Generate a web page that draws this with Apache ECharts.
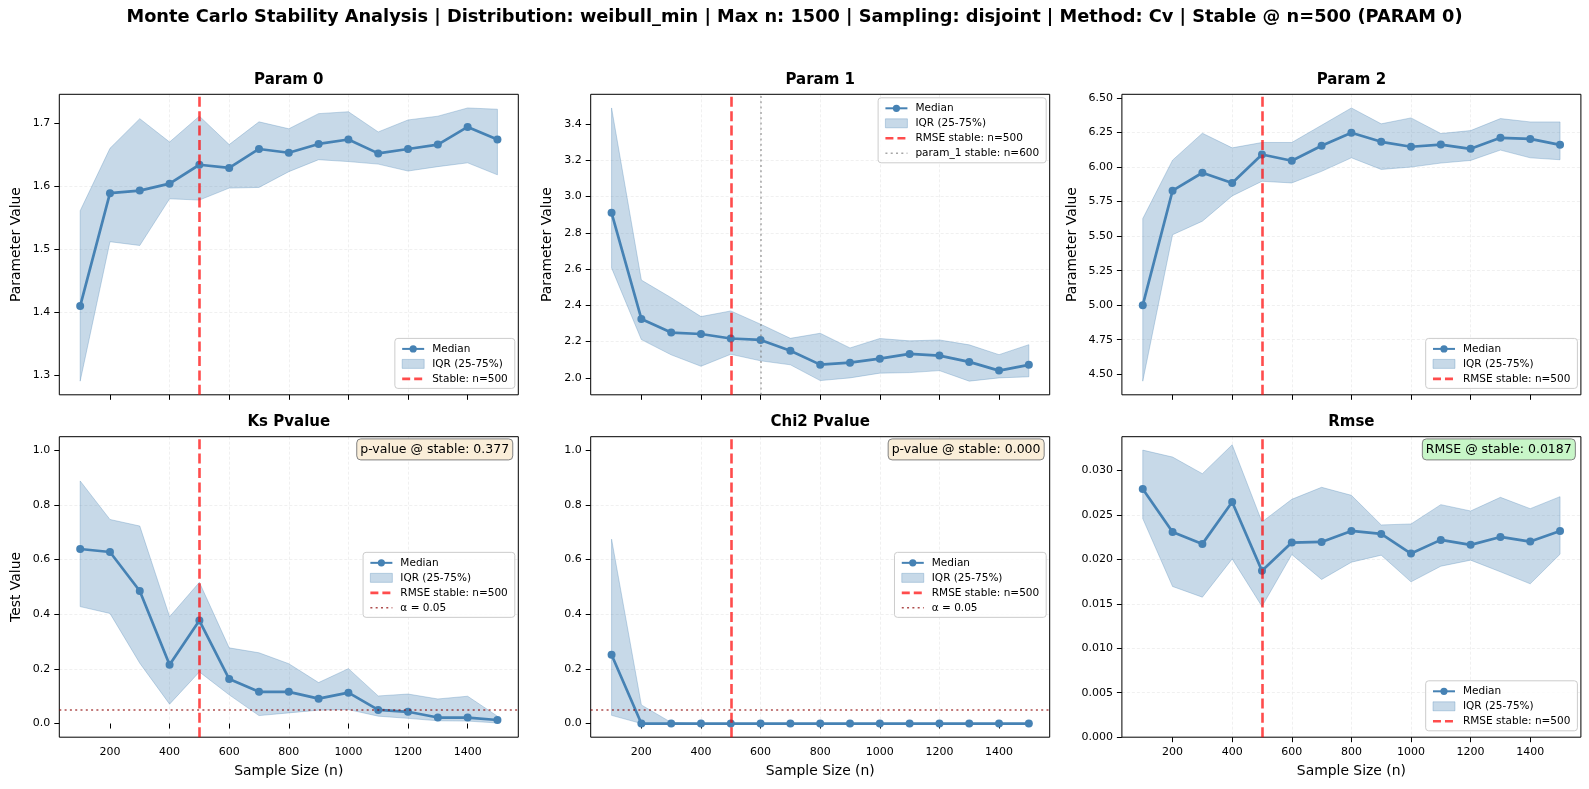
<!DOCTYPE html>
<html>
<head>
<meta charset="utf-8">
<title>Monte Carlo Stability Analysis</title>
<script src="https://cdn.jsdelivr.net/npm/echarts@6/dist/echarts.min.js"></script>
<style>
  html, body { margin: 0; padding: 0; background: #fff; }
  #chart { width: 1589px; height: 789px; }
</style>
</head>
<body>
<div id="chart"></div>
<script>
// ---- data ----
const sampleSizes = [100, 200, 300, 400, 500, 600, 700, 800, 900, 1000, 1100, 1200, 1300, 1400, 1500];

const param0Median = [1.410, 1.589, 1.593, 1.604, 1.634, 1.629, 1.659, 1.653, 1.667, 1.674, 1.652, 1.659, 1.666, 1.694, 1.674];
const param0Lower  = [1.291, 1.512, 1.506, 1.580, 1.578, 1.597, 1.598, 1.623, 1.642, 1.639, 1.635, 1.624, 1.631, 1.637, 1.618];
const param0Upper  = [1.561, 1.660, 1.707, 1.670, 1.711, 1.666, 1.702, 1.691, 1.715, 1.718, 1.686, 1.705, 1.711, 1.724, 1.722];

const param1Median = [2.910, 2.325, 2.250, 2.242, 2.217, 2.209, 2.149, 2.073, 2.084, 2.106, 2.132, 2.123, 2.088, 2.040, 2.072];
const param1Lower  = [2.606, 2.211, 2.127, 2.064, 2.130, 2.094, 2.072, 1.985, 2.000, 2.026, 2.029, 2.040, 1.982, 2.000, 2.006];
const param1Upper  = [3.488, 2.539, 2.442, 2.338, 2.369, 2.296, 2.218, 2.246, 2.165, 2.217, 2.204, 2.209, 2.182, 2.128, 2.183];

const param2Median = [5.000, 5.829, 5.959, 5.885, 6.091, 6.046, 6.154, 6.248, 6.183, 6.147, 6.163, 6.132, 6.212, 6.204, 6.161];
const param2Lower  = [4.450, 5.510, 5.608, 5.791, 5.897, 5.885, 5.969, 6.067, 5.983, 6.000, 6.029, 6.048, 6.123, 6.067, 6.053];
const param2Upper  = [5.627, 6.050, 6.245, 6.139, 6.178, 6.178, 6.303, 6.428, 6.313, 6.356, 6.243, 6.264, 6.351, 6.327, 6.327];

const ksMedian = [0.639, 0.628, 0.485, 0.215, 0.377, 0.163, 0.116, 0.116, 0.091, 0.113, 0.050, 0.043, 0.022, 0.022, 0.013];
const ksLower  = [0.428, 0.403, 0.221, 0.071, 0.189, 0.105, 0.029, 0.039, 0.049, 0.051, 0.027, 0.019, 0.010, 0.009, 0.002];
const ksUpper  = [0.888, 0.747, 0.723, 0.391, 0.517, 0.277, 0.259, 0.219, 0.150, 0.201, 0.101, 0.108, 0.090, 0.100, 0.027];

const chi2Median = [0.252, 0, 0, 0, 0, 0, 0, 0, 0, 0, 0, 0, 0, 0, 0];
const chi2Lower  = [0.030, 0, 0, 0, 0, 0, 0, 0, 0, 0, 0, 0, 0, 0, 0];
const chi2Upper  = [0.675, 0.068, 0.004, 0, 0, 0, 0, 0, 0, 0, 0, 0, 0, 0, 0];

const rmseMedian = [0.02790, 0.02307, 0.02173, 0.02644, 0.01870, 0.02188, 0.02195, 0.02319, 0.02285, 0.02064, 0.02218, 0.02162, 0.02251, 0.02199, 0.02319];
const rmseLower  = [0.02457, 0.01694, 0.01574, 0.02004, 0.01470, 0.02053, 0.01773, 0.01967, 0.02046, 0.01746, 0.01922, 0.01990, 0.01859, 0.01724, 0.02057];
const rmseUpper  = [0.03227, 0.03149, 0.02962, 0.03287, 0.02420, 0.02674, 0.02809, 0.02719, 0.02386, 0.02397, 0.02614, 0.02543, 0.02696, 0.02569, 0.02704];

const stableN = 500;
const param1StableN = 600;
const alphaLevel = 0.05;

// tick labels
const xTicks = [200, 400, 600, 800, 1000, 1200, 1400];
const param0Ticks = [1.3, 1.4, 1.5, 1.6, 1.7];
const param1Ticks = [2.0, 2.2, 2.4, 2.6, 2.8, 3.0, 3.2, 3.4];
const param2Ticks = [4.5, 4.75, 5.0, 5.25, 5.5, 5.75, 6.0, 6.25, 6.5];
const pvalueTicks = [0.0, 0.2, 0.4, 0.6, 0.8, 1.0];
const rmseTicks = [0.000, 0.005, 0.010, 0.015, 0.020, 0.025, 0.030];

// ---- styling ----
const FONT = 'DejaVu Sans';
const STEEL = '#4682b4';
const BAND_FILL = 'rgba(70,130,180,0.3)';
const BAND_EDGE = 'rgba(70,130,180,0.3)';
const RED = 'rgba(255,0,0,0.7)';
const W = 1589;
const gridW = 459, gridH = 300.5;
const colLeft = [59.3, 590.7, 1121.9];
const rowTop = [94.3, 436.7];

// matplotlib-like autoscale with 5% margins
function autoRange(lo, hi) {
  const dmin = Math.min(...lo), dmax = Math.max(...hi);
  const pad = (dmax - dmin) * 0.05;
  return [dmin - pad, dmax + pad];
}

const rmseMax = Math.max(...rmseUpper) + (Math.max(...rmseUpper) - Math.min(...rmseLower)) * 0.05;

const panels = [
  { title: 'Param 0', median: param0Median, lower: param0Lower, upper: param0Upper,
    range: autoRange(param0Lower, param0Upper), ticks: param0Ticks, digits: 1, yName: 'Parameter Value', nameGap: 36,
    stableName: 'Stable: n=500', legendPos: 'lower right' },
  { title: 'Param 1', median: param1Median, lower: param1Lower, upper: param1Upper,
    range: autoRange(param1Lower, param1Upper), ticks: param1Ticks, digits: 1, yName: 'Parameter Value', nameGap: 36,
    stableName: 'RMSE stable: n=500', paramLine: 'param_1 stable: n=600', legendPos: 'upper right' },
  { title: 'Param 2', median: param2Median, lower: param2Lower, upper: param2Upper,
    range: autoRange(param2Lower, param2Upper), ticks: param2Ticks, digits: 2, yName: 'Parameter Value', nameGap: 43,
    stableName: 'RMSE stable: n=500', legendPos: 'lower right' },
  { title: 'Ks Pvalue', median: ksMedian, lower: ksLower, upper: ksUpper,
    range: [-0.05, 1.05], ticks: pvalueTicks, digits: 1, yName: 'Test Value', nameGap: 36,
    stableName: 'RMSE stable: n=500', alphaLine: true, legendPos: 'center right',
    box: { text: 'p-value @ stable: 0.377', bg: '#faeed9' } },
  { title: 'Chi2 Pvalue', median: chi2Median, lower: chi2Lower, upper: chi2Upper,
    range: [-0.05, 1.05], ticks: pvalueTicks, digits: 1, yName: '', nameGap: 36,
    stableName: 'RMSE stable: n=500', alphaLine: true, legendPos: 'center right',
    box: { text: 'p-value @ stable: 0.000', bg: '#faeed9' } },
  { title: 'Rmse', median: rmseMedian, lower: rmseLower, upper: rmseUpper,
    range: [0, rmseMax], ticks: rmseTicks, digits: 3, yName: '', nameGap: 36,
    stableName: 'RMSE stable: n=500', legendPos: 'lower right',
    box: { text: 'RMSE @ stable: 0.0187', bg: '#c8f6c8' } },
];

const grids = [], xAxes = [], yAxes = [], series = [], legends = [], titles = [], graphics = [];

titles.push({
  text: 'Monte Carlo Stability Analysis | Distribution: weibull_min | Max n: 1500 | Sampling: disjoint | Method: Cv | Stable @ n=500 (PARAM 0)',
  left: 'center', top: 8, padding: 0,
  textStyle: { fontFamily: FONT, fontSize: 17.8, fontWeight: 'bold', color: '#000' },
});

// faint grid, not drawn on the frame itself
const splitLine = { show: true, showMinLine: false, showMaxLine: false,
  lineStyle: { color: '#ececec', width: 0.8, type: [3, 2] } };
const hidden = { color: 'rgba(0,0,0,0)', borderColor: 'rgba(0,0,0,0)', borderWidth: 0 };

// vertical / horizontal reference line drawn as a markLine on an empty series
function refLine(name, idx, style, point, z) {
  return {
    type: 'line', name, xAxisIndex: idx, yAxisIndex: idx, data: [],
    symbol: 'none', lineStyle: style, itemStyle: { color: style.color }, z,
    markLine: { silent: true, symbol: ['none', 'none'], label: { show: false }, animation: false,
      lineStyle: style, data: [point] },
  };
}

panels.forEach((p, i) => {
  const row = Math.floor(i / 3), col = i % 3;
  const left = colLeft[col], top = rowTop[row];
  const right = left + gridW, bottom = top + gridH;

  grids.push({ left, top, width: gridW, height: gridH, show: true, borderColor: '#000', borderWidth: 1, z: 3 });

  xAxes.push({
    type: 'value', gridIndex: i, min: 30, max: 1570,
    axisLine: { show: false },
    axisTick: { show: true, customValues: xTicks, length: 5, lineStyle: { color: '#000', width: 1 } },
    axisLabel: { show: row === 1, customValues: xTicks, margin: 9, fontSize: 11, fontFamily: FONT, color: '#000',
      formatter: (v) => String(v) },
    splitLine,
    name: row === 1 ? 'Sample Size (n)' : '', nameLocation: 'middle', nameGap: 27,
    nameTextStyle: { fontFamily: FONT, fontSize: 13.9, color: '#000' },
  });

  yAxes.push({
    type: 'value', gridIndex: i, min: p.range[0], max: p.range[1],
    axisLine: { show: false },
    axisTick: { show: true, customValues: p.ticks, length: 5, lineStyle: { color: '#000', width: 1 } },
    axisLabel: { customValues: p.ticks, margin: 9, fontSize: 11, fontFamily: FONT, color: '#000',
      formatter: (v) => Number(v).toFixed(p.digits) },
    splitLine,
    name: p.yName, nameLocation: 'middle', nameRotate: 90, nameGap: p.nameGap,
    nameTextStyle: { fontFamily: FONT, fontSize: 13.9, color: '#000' },
  });

  // IQR band as one polygon (upper edge forward, lower edge back)
  series.push({
    type: 'custom', name: 'IQR (25-75%)', xAxisIndex: i, yAxisIndex: i, z: 1, silent: true,
    data: sampleSizes.map((n, k) => [n, p.lower[k], p.upper[k]]),
    encode: { x: 0, y: [1, 2] },
    itemStyle: { color: BAND_FILL },
    renderItem: (params, api) => {
      if (params.dataIndex !== 0) return null;
      const up = sampleSizes.map((n, k) => api.coord([n, p.upper[k]]));
      const lo = sampleSizes.map((n, k) => api.coord([n, p.lower[k]]));
      return {
        type: 'polygon',
        shape: { points: up.concat(lo.reverse()) },
        style: { fill: BAND_FILL, stroke: BAND_EDGE, lineWidth: 1 },
      };
    },
  });

  // median line
  series.push({
    type: 'line', name: 'Median', xAxisIndex: i, yAxisIndex: i,
    data: sampleSizes.map((n, k) => [n, p.median[k]]),
    symbol: 'circle', symbolSize: 8, z: 3,
    lineStyle: { color: STEEL, width: 2.7 },
    itemStyle: { color: STEEL },
  });

  const stableStyle = { color: RED, width: 2.6, type: [10, 4.4] };
  series.push(refLine(p.stableName, i, stableStyle, { xAxis: stableN }, 5));

  const legendData = [
    { name: 'Median' },
    { name: 'IQR (25-75%)', icon: 'rect', itemStyle: { color: BAND_FILL, borderColor: BAND_EDGE, borderWidth: 1 } },
    { name: p.stableName, lineStyle: { color: RED, width: 2.6, type: [8, 4] }, itemStyle: hidden },
  ];

  if (p.paramLine) {
    const grayStyle = { color: 'rgba(128,128,128,0.7)', width: 1.5, type: [2, 3.3] };
    series.push(refLine(p.paramLine, i, grayStyle, { xAxis: param1StableN }, 4));
    legendData.push({ name: p.paramLine, lineStyle: grayStyle, itemStyle: hidden });
  }

  if (p.alphaLine) {
    const alphaStyle = { color: 'rgba(139,0,0,0.7)', width: 1.5, type: [2, 3.3] };
    series.push(refLine('α = 0.05', i, alphaStyle, { yAxis: alphaLevel }, 4));
    legendData.push({ name: 'α = 0.05', lineStyle: alphaStyle, itemStyle: hidden });
  }

  // legend box
  const legend = {
    orient: 'vertical', data: legendData, selectedMode: false,
    itemWidth: 22, itemHeight: 9, itemGap: 4,
    padding: [5, 7, 4, 6],
    backgroundColor: 'rgba(255,255,255,0.8)', borderColor: '#cccccc', borderWidth: 1, borderRadius: 3,
    textStyle: { fontFamily: FONT, fontSize: 10.5, color: '#000', padding: [0, 0, 0, 3] },
    right: W - (right - 3.5),
  };
  const legendH = legendData.length * 16.3 + 4;
  if (p.legendPos === 'lower right') legend.top = bottom - 3.5 - legendH;
  else if (p.legendPos === 'upper right') legend.top = top + 3.5;
  else legend.top = top + gridH / 2 - legendH / 2;
  legends.push(legend);

  // subplot title
  graphics.push({
    type: 'text', x: left + gridW / 2, y: top - 14.5, silent: true,
    style: { text: p.title, font: 'bold 15px "DejaVu Sans"', fill: '#000',
      align: 'center', verticalAlign: 'middle', textAlign: 'center', textVerticalAlign: 'middle' },
  });

  // annotation box at upper right
  if (p.box) {
    titles.push({
      text: p.box.text, right: W - (right - 9.2 + 3.8), top: top + 2.2,
      padding: [3.5, 3.8, 3.5, 3.8], backgroundColor: p.box.bg,
      borderColor: '#808080', borderWidth: 1, borderRadius: 4,
      textStyle: { fontFamily: FONT, fontSize: 12.5, fontWeight: 'normal', color: '#000', lineHeight: 14 },
    });
  }
});

const chart = echarts.init(document.getElementById('chart'), null, { renderer: 'canvas' });
chart.setOption({
  animation: false,
  backgroundColor: '#fff',
  textStyle: { fontFamily: FONT },
  title: titles,
  grid: grids,
  xAxis: xAxes,
  yAxis: yAxes,
  legend: legends,
  series: series,
  graphic: graphics,
});
</script>
</body>
</html>
